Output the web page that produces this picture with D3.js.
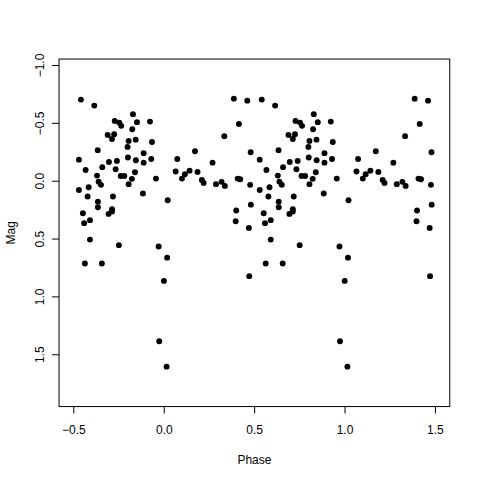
<!DOCTYPE html>
<html>
<head>
<meta charset="utf-8">
<script src="https://cdn.jsdelivr.net/npm/d3@7"></script>
<style>
  body { margin: 0; background: #fff; }
  svg { display: block; font-family: 'Liberation Sans', Arial, Helvetica, sans-serif; }
</style>
</head>
<body>
<svg width="480" height="480"></svg>
<script>
// folded light curve, one cycle; drawn again at phase + 1
const phase = [
  -0.458, -0.384, -0.170, -0.271, -0.246, -0.235, -0.148, -0.076, -0.174, -0.310,
  -0.274, -0.286, -0.194, -0.155, -0.065, -0.200, -0.365, -0.111, -0.469, -0.198,
  -0.154, -0.111, -0.069, -0.303, -0.259, -0.340, -0.432, -0.266, -0.159, -0.369,
  -0.360, -0.347, -0.238, -0.218, -0.176, -0.043, -0.194, -0.469, -0.415, -0.421,
  -0.364, -0.364, -0.281, -0.115, -0.447, -0.286, -0.286, -0.305, -0.408, -0.440,
  -0.408, -0.248, -0.028, -0.436, -0.342, 0.388, 0.462, 0.416, 0.335, 0.173,
  0.481, 0.075, 0.270, 0.066, 0.117, 0.143, 0.101, 0.187, 0.211, 0.221,
  0.289, 0.320, 0.338, 0.409, 0.423, 0.478, 0.022, 0.401, 0.482, 0.398,
  0.471, 0.019, 0.473, 0.001, -0.025, 0.016
];
const mag = [
  -0.701, -0.649, -0.575, -0.517, -0.502, -0.474, -0.506, -0.511, -0.445, -0.396,
  -0.402, -0.361, -0.344, -0.355, -0.335, -0.292, -0.264, -0.238, -0.182, -0.200,
  -0.177, -0.156, -0.188, -0.162, -0.171, -0.117, -0.093, -0.099, -0.073, -0.044,
  0.008, 0.036, -0.041, -0.041, -0.016, -0.018, 0.030, 0.080, 0.056, 0.137,
  0.181, 0.229, 0.137, 0.111, 0.281, 0.246, 0.267, 0.287, 0.341, 0.367,
  0.509, 0.557, 0.569, 0.716, 0.716, -0.709, -0.692, -0.491, -0.385, -0.255,
  -0.246, -0.188, -0.156, -0.079, -0.056, -0.087, -0.018, -0.076, -0.007, 0.019,
  0.030, 0.010, 0.045, -0.018, -0.013, 0.036, 0.169, 0.258, 0.207, 0.350,
  0.408, 0.665, 0.825, 0.866, 1.387, 1.607
];
const xTicks = [-0.5, 0.0, 0.5, 1.0, 1.5];
const yTicks = [-1.0, -0.5, 0.0, 0.5, 1.0, 1.5];

const svg = d3.select('svg');
const box = { left: 59.04, right: 449.76, top: 59.04, bottom: 406.56 };

const x = d3.scaleLinear().domain([-0.579, 1.582]).range([box.left, box.right]);
// magnitudes: brighter at the top
const y = d3.scaleLinear().domain([-1.0515, 1.952]).range([box.top, box.bottom]);

const points = [];
phase.forEach((p, i) => {
  points.push({ p, m: mag[i] });
  points.push({ p: p + 1, m: mag[i] });
});

svg.append('g')
  .selectAll('circle')
  .data(points)
  .enter().append('circle')
  .attr('cx', d => x(d.p))
  .attr('cy', d => y(d.m))
  .attr('r', 2.95)
  .attr('fill', '#000');

// x axis
const xAxis = svg.append('g')
  .attr('transform', `translate(0,${box.bottom})`)
  .call(d3.axisBottom(x).tickValues(xTicks).tickSize(7).tickPadding(12).tickFormat(d3.format('.1f')));
xAxis.select('.domain').remove();
xAxis.selectAll('text').style('font-size', '12px').attr('fill', '#000');

// y axis, labels parallel to the axis
const yAxis = svg.append('g')
  .attr('transform', `translate(${box.left},0)`)
  .call(d3.axisLeft(y).tickValues(yTicks).tickSize(7).tickFormat(d3.format('.1f')));
yAxis.select('.domain').remove();
yAxis.selectAll('text')
  .attr('transform', 'rotate(-90)')
  .attr('x', 0)
  .attr('y', -14.7)
  .attr('dy', 0)
  .style('text-anchor', 'middle')
  .style('font-size', '12px')
  .attr('fill', '#000');

svg.append('rect')
  .attr('x', box.left)
  .attr('y', box.top)
  .attr('width', box.right - box.left)
  .attr('height', box.bottom - box.top)
  .attr('fill', 'none')
  .attr('stroke', '#000')
  .attr('stroke-width', 1);

svg.append('text')
  .attr('x', (box.left + box.right) / 2)
  .attr('y', 464.3)
  .style('text-anchor', 'middle')
  .style('font-size', '12px')
  .text('Phase');

svg.append('text')
  .attr('transform', `translate(15.3,${(box.top + box.bottom) / 2}) rotate(-90)`)
  .style('text-anchor', 'middle')
  .style('font-size', '12px')
  .text('Mag');
</script>
</body>
</html>
